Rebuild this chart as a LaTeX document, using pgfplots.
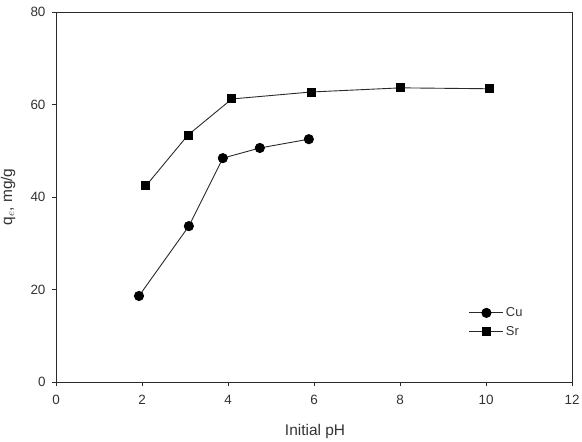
\documentclass[border=0pt]{standalone}
\usepackage{pgfplots}
\pgfplotsset{compat=1.18}
\usepackage{fontspec}
\setmainfont{Liberation Sans}
\definecolor{txt}{HTML}{333333}
\definecolor{ln}{HTML}{2A2A2A}
\begin{document}
\begin{tikzpicture}[x=1bp,y=1bp]
\begin{axis}[
  at={(0,0)}, anchor=south west,
  scale only axis, width=516bp, height=370bp,
  xmin=0, xmax=12, ymin=0, ymax=80,
  xtick={0,2,...,12}, ytick={0,20,...,80},
  tick align=outside, xtick pos=bottom, ytick pos=left,
  major tick length=4bp,
  axis line style={ln, line width=0.9pt},
  every tick/.style={ln, line width=0.8pt},
  tick label style={font=\fontsize{13.5}{14}\selectfont, text=txt},
  xticklabel style={yshift=-6bp},
  yticklabel style={xshift=-3bp},
  /pgf/number format/assume math mode=true,
  xlabel={Initial pH},
  ylabel={q$_e$, mg/g},
  label style={font=\fontsize{15.5}{16}\selectfont, text=txt},
  xlabel style={at={(axis description cs:0.502,-0.135)}, anchor=center},
  ylabel style={at={(axis description cs:-0.093,0.5)}, anchor=center},
  legend style={draw=none, fill=none, inner sep=0pt, at={(axis description cs:0.800,0.207)}, anchor=north west,
    font=\fontsize{13}{14}\selectfont, text=txt, row sep=4bp,
    nodes={inner sep=2bp}},
  legend cell align=left,
  legend image code/.code={\draw[mark repeat=2,mark phase=2,#1] plot coordinates {(0bp,0bp) (17bp,0bp) (34bp,0bp)};},
]
\addplot[ln, line width=0.9pt, mark=*, mark size=4.6bp, mark options={fill=black, draw=black}]
  coordinates {(1.93,18.6) (3.09,33.7) (3.88,48.4) (4.74,50.6) (5.88,52.5)};
\addlegendentry{Cu}
\addplot[ln, line width=0.9pt, mark=square*, mark size=4bp, mark options={fill=black, draw=black}]
  coordinates {(2.09,42.4) (3.07,53.4) (4.09,61.2) (5.93,62.7) (8.02,63.6) (10.09,63.4)};
\addlegendentry{Sr}
\end{axis}
\pgfresetboundingbox
\path (-56bp,-60bp) rectangle (526bp,382bp);
\end{tikzpicture}
\end{document}
